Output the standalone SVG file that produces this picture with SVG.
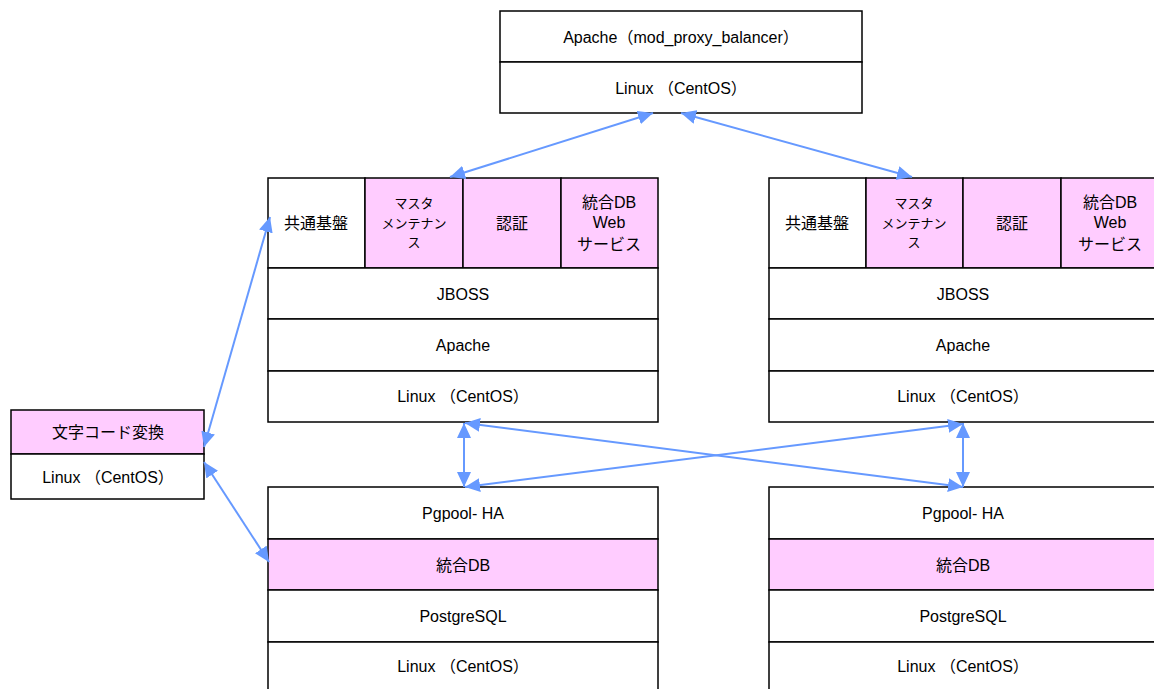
<svg xmlns="http://www.w3.org/2000/svg" width="1154" height="689" viewBox="0 0 1154 689">
<defs>
<style>
.w,.p{stroke:#000;stroke-width:1.5}
.w{fill:#fff}
.p{fill:#ffccff}
text{font-family:"Liberation Sans","Noto Sans CJK JP",sans-serif;font-size:16px;fill:#000;text-anchor:middle;dominant-baseline:central}
.s{font-size:13px}
.c line{stroke:#6699ff;stroke-width:2;marker-start:url(#ah);marker-end:url(#ah)}
</style>
<marker id="ah" viewBox="0 0 15 14" refX="15" refY="7" markerWidth="15" markerHeight="14" markerUnits="userSpaceOnUse" orient="auto-start-reverse">
<path d="M0,0 L15,7 L0,14 z" fill="#6699ff"/>
</marker>
</defs>
<rect width="1154" height="689" fill="#fff"/>

<g id="lb">
<rect class="w" x="500" y="11" width="362" height="51"/>
<rect class="w" x="500" y="62" width="362" height="51"/>
<text x="681" y="37">Apache（mod_proxy_balancer）</text>
<text x="681" y="88">Linux （CentOS）</text>
</g>

<g id="ap1">
<rect class="w" x="268" y="178" width="97" height="90"/>
<rect class="p" x="365" y="178" width="98" height="90"/>
<rect class="p" x="463" y="178" width="98" height="90"/>
<rect class="p" x="561" y="178" width="97" height="90"/>
<rect class="w" x="268" y="268" width="390" height="51"/>
<rect class="w" x="268" y="319" width="390" height="52"/>
<rect class="w" x="268" y="371" width="390" height="51"/>
<text x="316" y="223">共通基盤</text>
<text class="s" x="414" y="203">マスタ</text>
<text class="s" x="414" y="223">メンテナン</text>
<text class="s" x="414" y="242">ス</text>
<text x="512" y="223">認証</text>
<text x="609" y="202">統合DB</text>
<text x="609" y="222">Web</text>
<text x="609" y="244">サービス</text>
<text x="463" y="294">JBOSS</text>
<text x="463" y="345">Apache</text>
<text x="463" y="396">Linux （CentOS）</text>
</g>

<g id="ap2">
<rect class="w" x="769" y="178" width="97" height="90"/>
<rect class="p" x="866" y="178" width="97" height="90"/>
<rect class="p" x="963" y="178" width="98" height="90"/>
<rect class="p" x="1061" y="178" width="98" height="90"/>
<rect class="w" x="769" y="268" width="390" height="51"/>
<rect class="w" x="769" y="319" width="390" height="52"/>
<rect class="w" x="769" y="371" width="390" height="51"/>
<text x="817" y="223">共通基盤</text>
<text class="s" x="914" y="203">マスタ</text>
<text class="s" x="914" y="223">メンテナン</text>
<text class="s" x="914" y="242">ス</text>
<text x="1012" y="223">認証</text>
<text x="1110" y="202">統合DB</text>
<text x="1110" y="222">Web</text>
<text x="1110" y="244">サービス</text>
<text x="963" y="294">JBOSS</text>
<text x="963" y="345">Apache</text>
<text x="963" y="396">Linux （CentOS）</text>
</g>

<g id="conv">
<rect class="p" x="11" y="410" width="193" height="44"/>
<rect class="w" x="11" y="454" width="193" height="45"/>
<text x="108" y="432">文字コード変換</text>
<text x="108" y="477">Linux （CentOS）</text>
</g>

<g id="db1">
<rect class="w" x="268" y="487" width="390" height="52"/>
<rect class="p" x="268" y="539" width="390" height="51"/>
<rect class="w" x="268" y="590" width="390" height="52"/>
<rect class="w" x="268" y="642" width="390" height="52"/>
<text x="463" y="513">Pgpool- HA</text>
<text x="463" y="565">統合DB</text>
<text x="463" y="616">PostgreSQL</text>
<text x="463" y="666">Linux （CentOS）</text>
</g>

<g id="db2">
<rect class="w" x="769" y="487" width="390" height="52"/>
<rect class="p" x="769" y="539" width="390" height="51"/>
<rect class="w" x="769" y="590" width="390" height="52"/>
<rect class="w" x="769" y="642" width="390" height="52"/>
<text x="963" y="513">Pgpool- HA</text>
<text x="963" y="565">統合DB</text>
<text x="963" y="616">PostgreSQL</text>
<text x="963" y="666">Linux （CentOS）</text>
</g>

<g id="connectors" class="c">
<line x1="653" y1="113" x2="450" y2="177"/>
<line x1="681" y1="113" x2="912" y2="177"/>
<line x1="270" y1="217" x2="204" y2="447"/>
<line x1="204" y1="462" x2="269" y2="562"/>
<line x1="464" y1="423" x2="464" y2="487"/>
<line x1="963" y1="423" x2="963" y2="487"/>
<line x1="465" y1="423" x2="963" y2="487"/>
<line x1="963" y1="424" x2="465" y2="487"/>
</g>
</svg>
